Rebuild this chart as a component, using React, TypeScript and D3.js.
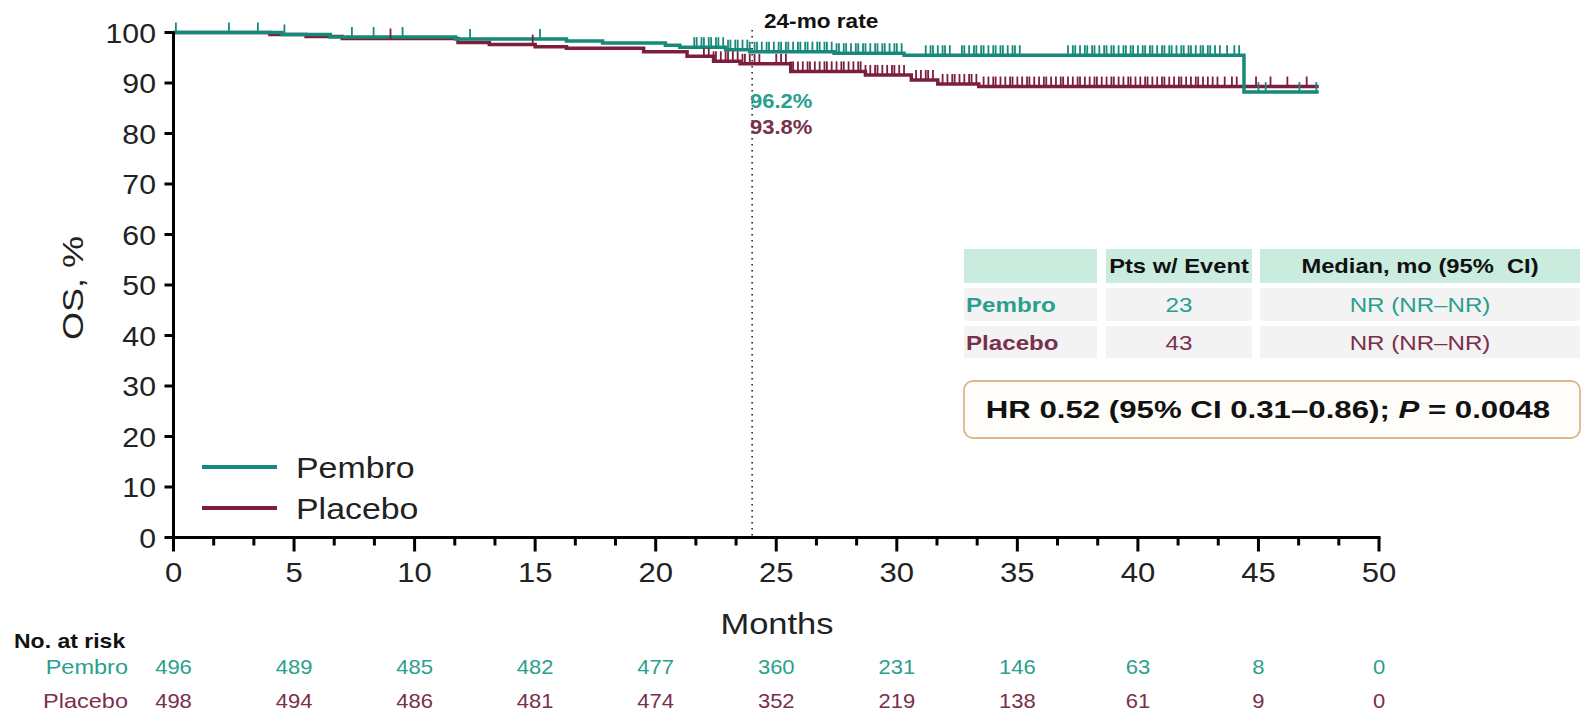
import React from "react";
import * as d3 from "d3";

const xTicks = [0, 5, 10, 15, 20, 25, 30, 35, 40, 45, 50];
const yTicks = [0, 10, 20, 30, 40, 50, 60, 70, 80, 90, 100];

// KM steps: [month, survival %]
const pembroSteps: [number, number][] = [
  [0, 100], [4.5, 99.6], [6.5, 99.1], [11.7, 98.7], [16.3, 98.3], [17.8, 97.9],
  [20.4, 97.5], [21.0, 97.1], [22.9, 96.6], [23.9, 96.2], [27.4, 95.9], [30.3, 95.5],
  [44.4, 88.2], [47.5, 88.2],
];
const placeboSteps: [number, number][] = [
  [0, 100], [4.0, 99.6], [5.5, 99.2], [7.0, 98.8], [11.8, 98.0], [13.1, 97.6],
  [15.0, 97.2], [16.3, 96.9], [19.5, 96.2], [21.3, 95.3], [22.4, 94.3], [23.5, 93.8],
  [25.6, 92.3], [28.7, 91.6], [30.6, 90.6], [31.7, 89.8], [33.4, 89.3], [47.5, 89.3],
];

const pembroCensor = [
  0.1, 2.3, 3.5, 4.6, 7.4, 8.3, 9.5, 12.3, 15.2,
  21.6, 21.7, 21.9, 22.0, 22.2, 22.3, 22.5, 22.6, 22.8, 23.0, 23.1, 23.3, 23.4, 23.6,
  23.8, 23.9, 24.1, 24.2, 24.4, 24.6, 24.7, 24.9, 25.1, 25.2, 25.4, 25.5, 25.7, 25.9,
  26.0, 26.2, 26.3, 26.5, 26.7, 26.8, 27.0, 27.1, 27.3, 27.5, 27.6, 27.8, 27.9, 28.1,
  28.3, 28.4, 28.6, 28.7, 28.9, 29.1, 29.2, 29.4, 29.5, 29.7, 29.9, 30.0, 30.2,
  31.2, 31.4, 31.5, 31.7, 31.9, 32.0, 32.2, 32.7, 32.8, 33.0, 33.2, 33.3, 33.5, 33.6,
  33.8, 34.0, 34.1, 34.3, 34.4, 34.6, 34.8, 34.9, 35.1,
  37.1, 37.3, 37.4, 37.6, 37.8, 37.9, 38.1, 38.2, 38.4, 38.6, 38.7, 38.9, 39.0, 39.2,
  39.4, 39.5, 39.7, 39.8, 40.0, 40.2, 40.3, 40.5, 40.6, 40.8, 41.0, 41.1, 41.3, 41.4,
  41.6, 41.8, 41.9, 42.1, 42.2, 42.4, 42.6, 42.7, 42.9, 43.0, 43.2, 43.4, 43.7, 44.0, 44.2,
  45.0, 45.3, 46.7, 47.4,
];
const placeboCensor = [
  9.0, 14.9,
  22.0, 22.2, 22.4, 22.5, 22.7, 22.9, 23.0, 23.2, 23.4, 23.6, 23.7, 23.9, 24.1, 24.3,
  25.0, 25.2, 25.4, 25.6, 25.7, 25.9, 26.1, 26.3, 26.4, 26.6, 26.8, 27.0, 27.1, 27.3,
  27.5, 27.7, 27.8, 28.0, 28.2, 28.4, 28.5, 28.7, 28.9, 29.1, 29.2, 29.4, 29.6, 29.8,
  29.9, 30.1, 30.3, 30.8, 31.0, 31.2, 31.3, 31.5, 31.9, 32.1, 32.3, 32.4, 32.6, 32.8,
  33.0, 33.1, 33.3, 33.6, 33.8, 34.0, 34.1, 34.3, 34.5, 34.7, 34.8, 35.0, 35.2, 35.4,
  35.5, 35.7, 35.9, 36.1, 36.2, 36.4, 36.6, 36.8, 36.9, 37.1, 37.3, 37.5, 37.6, 37.8,
  38.0, 38.2, 38.3, 38.5, 38.7, 38.9, 39.0, 39.2, 39.4, 39.6, 39.7, 39.9, 40.1, 40.3,
  40.4, 40.6, 40.8, 41.0, 41.1, 41.3, 41.5, 41.7, 41.8, 42.0, 42.2, 42.4, 42.5, 42.7,
  42.9, 43.1, 43.3, 43.6, 43.9, 44.1,
  44.9, 45.5, 46.2, 47.0,
];

const riskPembro = [496, 489, 485, 482, 477, 360, 231, 146, 63, 8, 0];
const riskPlacebo = [498, 494, 486, 481, 474, 352, 219, 138, 61, 9, 0];

const tableHeader = ["", "Pts w/ Event", "Median, mo (95%\u00a0 CI)"];
const tableRows = [
  ["Pembro", "23", "NR (NR\u2013NR)"],
  ["Placebo", "43", "NR (NR\u2013NR)"],
];

const rate24 = { pembro: "96.2%", placebo: "93.8%" };

const TEAL = "#168a7a";
const TEAL_TXT = "#2a9f8e";
const MAROON = "#7d1e3e";
const MAROON_TXT = "#7a2f4c";
const FONT = "'Liberation Sans', Arial, sans-serif";

function T(props: any) {
  const { x, y, children, anchor = "start", size = 20, weight = "normal", fill = "#111", sx = 1.1, ...rest } = props;
  return (
    <text
      transform={`translate(${x},${y}) scale(${sx},1)`}
      textAnchor={anchor}
      fontSize={size}
      fontWeight={weight}
      fill={fill}
      fontFamily={FONT}
      {...rest}
    >
      {children}
    </text>
  );
}

function survAt(steps: [number, number][], t: number) {
  let s = steps[0][1];
  for (const [ti, si] of steps) if (ti <= t) s = si;
  return s;
}

export default function App() {
  const W = 1583, H = 713;
  const x = d3.scaleLinear().domain([0, 50]).range([173.5, 1379]);
  const y = d3.scaleLinear().domain([0, 100]).range([537.5, 32.5]);
  const line = d3.line<[number, number]>().x(d => x(d[0])).y(d => y(d[1])).curve(d3.curveStepAfter);

  const minor: number[] = [];
  for (let i = 0; i < 10; i++) { minor.push(i * 5 + 5 / 3, i * 5 + 10 / 3); }

  const cols = [[964, 1097], [1106, 1252], [1260, 1580]];
  const rowsY = [[249, 283], [288, 321], [326, 358]];

  return (
    <svg width={W} height={H} style={{ position: "absolute", left: 0, top: 0, background: "#fff" }}>
      <rect width={W} height={H} fill="#fff" />
      {/* curves */}
      <path d={line(placeboSteps) || ""} fill="none" stroke={MAROON} strokeWidth={3.5} />
      <path d={line(pembroSteps) || ""} fill="none" stroke={TEAL} strokeWidth={3.5} />
      {placeboCensor.map((t, i) => (
        <line key={"pc" + i} x1={x(t)} x2={x(t)} y1={y(survAt(placeboSteps, t)) + 1} y2={y(survAt(placeboSteps, t)) - 10} stroke={MAROON} strokeWidth={1.8} />
      ))}
      {pembroCensor.map((t, i) => (
        <line key={"ec" + i} x1={x(t)} x2={x(t)} y1={y(survAt(pembroSteps, t)) + 1} y2={y(survAt(pembroSteps, t)) - 10} stroke={TEAL} strokeWidth={1.8} />
      ))}

      {/* 24-mo dotted line */}
      <line x1={x(24)} x2={x(24)} y1={30} y2={537} stroke="#222" strokeWidth={1.6} strokeDasharray="1.6,4.4" />
      <T x={764} y={28} size={20} weight="bold" sx={1.13}>24-mo rate</T>
      <T x={750} y={108} size={20} weight="bold" fill={TEAL_TXT} sx={1.1}>{rate24.pembro}</T>
      <T x={750} y={134} size={20} weight="bold" fill={MAROON_TXT} sx={1.1}>{rate24.placebo}</T>

      {/* axes */}
      <line x1={x(0)} x2={x(0)} y1={y(100) - 1} y2={y(0) + 1.5} stroke="#000" strokeWidth={3} />
      <line x1={x(0) - 1.5} x2={x(50) + 1.5} y1={y(0)} y2={y(0)} stroke="#000" strokeWidth={3} />
      {yTicks.map(v => (
        <g key={"yt" + v}>
          <line x1={x(0) - 9} x2={x(0)} y1={y(v)} y2={y(v)} stroke="#000" strokeWidth={3} />
          <T x={156} y={y(v) + 10} anchor="end" size={27} fill="#222" sx={1.12}>{v}</T>
        </g>
      ))}
      {xTicks.map(v => (
        <g key={"xt" + v}>
          <line x1={x(v)} x2={x(v)} y1={y(0)} y2={y(0) + 14} stroke="#000" strokeWidth={3} />
          <T x={x(v)} y={582} anchor="middle" size={27} fill="#222" sx={1.15}>{v}</T>
        </g>
      ))}
      {minor.map((v, i) => (
        <line key={"mt" + i} x1={x(v)} x2={x(v)} y1={y(0)} y2={y(0) + 8} stroke="#000" strokeWidth={3} />
      ))}
      <T x={777} y={634} anchor="middle" size={30} fill="#222" sx={1.15}>Months</T>
      <text transform={`translate(83,288) rotate(-90) scale(1.2,1)`} textAnchor="middle" fontSize={30} fill="#222" fontFamily={FONT}>OS, %</text>

      {/* legend */}
      <line x1={202} x2={277} y1={467} y2={467} stroke={TEAL} strokeWidth={4} />
      <line x1={202} x2={277} y1={508} y2={508} stroke={MAROON} strokeWidth={4} />
      <T x={296} y={478} size={30} fill="#222" sx={1.13}>Pembro</T>
      <T x={296} y={519} size={30} fill="#222" sx={1.13}>Placebo</T>

      {/* table */}
      {rowsY.map((r, ri) =>
        cols.map((c, ci) => (
          <rect key={`c${ri}-${ci}`} x={c[0]} y={r[0]} width={c[1] - c[0]} height={r[1] - r[0]} fill={ri === 0 ? "#c9ecdf" : "#f3f3f3"} />
        ))
      )}
      {tableHeader.map((h, ci) => (
        <T key={"h" + ci} x={(cols[ci][0] + cols[ci][1]) / 2} y={273} anchor="middle" size={21} weight="bold" fill="#111" sx={1.13}>{h}</T>
      ))}
      {tableRows.map((row, ri) => (
        <g key={"r" + ri}>
          <T x={966} y={rowsY[ri + 1][0] + 24} size={21} weight="bold" fill={ri === 0 ? TEAL_TXT : MAROON_TXT} sx={1.15}>{row[0]}</T>
          <T x={(cols[1][0] + cols[1][1]) / 2} y={rowsY[ri + 1][0] + 24} anchor="middle" size={21} fill={ri === 0 ? TEAL_TXT : MAROON_TXT} sx={1.15}>{row[1]}</T>
          <T x={(cols[2][0] + cols[2][1]) / 2} y={rowsY[ri + 1][0] + 24} anchor="middle" size={21} fill={ri === 0 ? TEAL_TXT : MAROON_TXT} sx={1.15}>{row[2]}</T>
        </g>
      ))}
      <rect x={964} y={381} width={616} height={57} rx={9} fill="#fffdf9" stroke="#dcb98c" strokeWidth={1.8} />
      <T x={1268} y={418} anchor="middle" size={24} weight="bold" fill="#111" sx={1.3}>
        HR 0.52 (95% CI 0.31{"\u2013"}0.86); <tspan fontStyle="italic">P</tspan> = 0.0048
      </T>

      {/* at risk */}
      <T x={14} y={648} size={20} weight="bold" fill="#111" sx={1.15}>No. at risk</T>
      <T x={128} y={674} anchor="end" size={21} fill={TEAL_TXT} sx={1.12}>Pembro</T>
      <T x={128} y={708} anchor="end" size={21} fill={MAROON_TXT} sx={1.12}>Placebo</T>
      {riskPembro.map((v, i) => (
        <T key={"rp" + i} x={x(xTicks[i])} y={674} anchor="middle" size={20} fill={TEAL_TXT} sx={1.1}>{v}</T>
      ))}
      {riskPlacebo.map((v, i) => (
        <T key={"rl" + i} x={x(xTicks[i])} y={708} anchor="middle" size={20} fill={MAROON_TXT} sx={1.1}>{v}</T>
      ))}
    </svg>
  );
}
